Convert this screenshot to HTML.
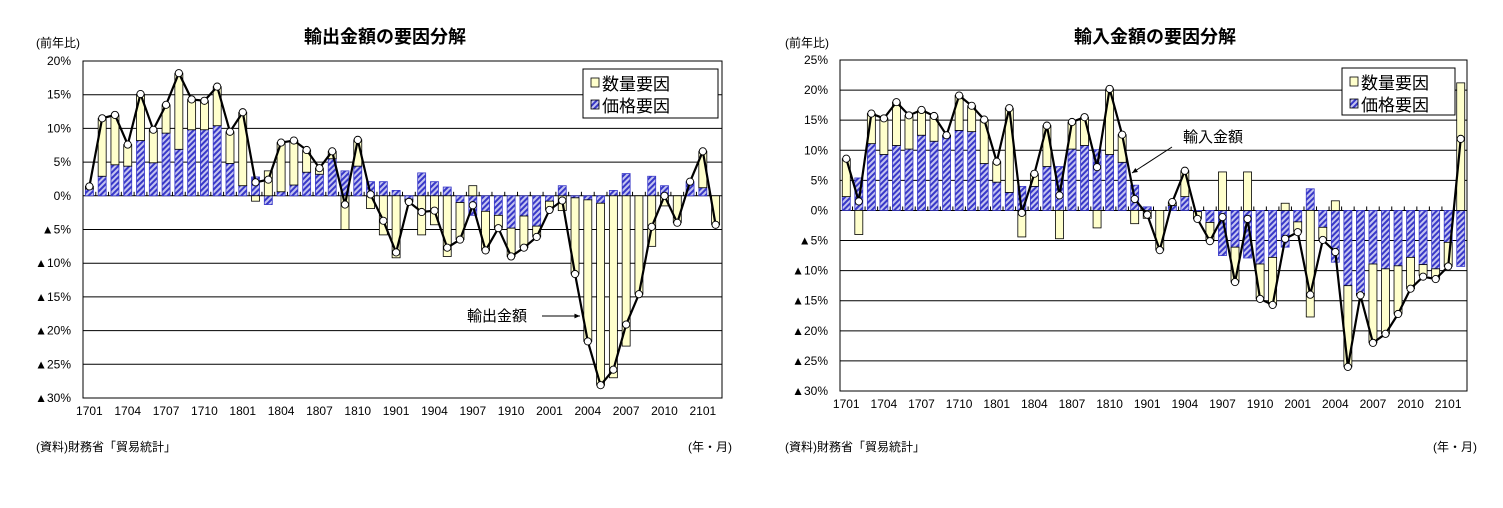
<!DOCTYPE html>
<html><head><meta charset="utf-8">
<style>
body{margin:0;background:#fff;width:1503px;height:503px;overflow:hidden;font-family:"Liberation Sans","Noto Sans CJK JP",sans-serif;}
svg text{font-family:"Liberation Sans","Noto Sans CJK JP",sans-serif;}
</style></head>
<body>
<svg id="root" width="1503" height="503" viewBox="0 0 1503 503">
<defs>
<pattern id="hatch" patternUnits="userSpaceOnUse" width="4" height="4" patternTransform="rotate(45)">
<rect width="4" height="4" fill="#c4c4f0"/><rect width="2" height="4" fill="#3838c8"/>
</pattern>
</defs>
</svg>
<script>
const categories=[];
for(let y=17;y<=21;y++){for(let m=1;m<=12;m++){categories.push(String(y)+String(m).padStart(2,'0'));}}
categories.length=50;
const exportPrice=[1.0,2.9,4.6,4.4,8.2,4.9,9.3,6.9,9.8,9.8,10.4,4.8,1.5,2.8,-1.3,0.6,1.6,3.5,3.2,5.5,3.7,4.4,2.1,2.1,0.8,-0.5,3.4,2.1,1.3,-1.0,-2.9,-2.3,-2.9,-4.8,-3.0,-4.5,-0.8,1.5,-0.3,-0.6,-1.1,0.8,3.3,0.0,2.9,1.5,0.0,2.1,1.2,0.0];
const exportVolume=[0.4,8.6,7.4,3.2,6.9,4.9,4.2,11.3,4.5,4.3,5.8,4.7,10.9,-0.8,3.7,7.3,6.6,3.3,0.9,1.1,-5.0,3.9,-1.9,-5.8,-9.2,-0.4,-5.8,-4.3,-9.0,-5.5,1.5,-5.8,-1.9,-4.2,-4.7,-1.6,-1.3,-2.2,-11.3,-21.0,-27.0,-27.0,-22.3,-14.6,-7.5,-1.5,-4.0,0.0,5.4,-4.3];
const exportTotal=[1.4,11.5,12.0,7.6,15.1,9.8,13.5,18.2,14.3,14.1,16.2,9.5,12.4,2.0,2.4,7.9,8.2,6.8,4.1,6.6,-1.3,8.3,0.2,-3.7,-8.4,-0.9,-2.4,-2.2,-7.7,-6.5,-1.4,-8.1,-4.8,-9.0,-7.7,-6.1,-2.1,-0.7,-11.6,-21.6,-28.1,-25.8,-19.1,-14.6,-4.6,0.0,-4.0,2.1,6.6,-4.3];
const importPrice=[2.3,5.4,11.1,9.3,10.8,10.2,12.5,11.5,12.2,13.3,13.1,7.8,4.7,3.0,4.0,4.0,7.3,7.3,10.2,10.8,10.1,9.3,8.0,4.2,0.6,0.0,0.8,2.3,-0.2,-2.0,-7.5,-6.1,-7.9,-8.9,-7.8,-6.1,-1.9,3.6,-2.8,-8.6,-12.5,-13.8,-8.9,-9.7,-9.2,-7.8,-9.0,-9.7,-5.3,-9.3];
const importVolume=[6.3,-4.0,5.0,6.0,7.2,5.6,4.2,4.2,0.3,5.8,4.3,7.3,3.4,14.0,-4.4,2.1,6.8,-4.7,4.5,4.7,-2.9,10.9,4.6,-2.2,-1.3,-6.6,0.6,4.3,-1.2,-3.1,6.4,-5.8,6.4,-5.8,-7.9,1.2,-1.7,-17.7,-2.1,1.6,-13.5,-0.3,-13.1,-10.8,-8.0,-5.2,-1.8,-1.7,-4.0,21.2];
const importTotal=[8.6,1.5,16.1,15.3,18.0,15.8,16.7,15.7,12.5,19.1,17.4,15.1,8.1,17.0,-0.4,6.1,14.1,2.5,14.7,15.5,7.2,20.2,12.6,1.9,-0.7,-6.6,1.4,6.6,-1.4,-5.1,-1.1,-11.9,-1.4,-14.7,-15.7,-4.7,-3.6,-14.0,-4.9,-6.9,-26.0,-14.1,-22.0,-20.5,-17.2,-13.0,-11.0,-11.4,-9.3,11.9];
const exportTicks=[20,15,10,5,0,-5,-10,-15,-20,-25,-30];
const importTicks=[25,20,15,10,5,0,-5,-10,-15,-20,-25,-30];

const svg=document.getElementById('root');
const NS='http://www.w3.org/2000/svg';
function mk(tag,attrs,parent){const e=document.createElementNS(NS,tag);for(const k in attrs)e.setAttribute(k,attrs[k]);(parent||svg).appendChild(e);return e;}
function fmt(v){return v<0?'▲'+(-v)+'%':v+'%';}

function drawChart(o){
  const g=mk('g',{});
  
  
  const n=categories.length;
  const slot=(o.x1-o.x0)/n;
  const yS=v=>o.y0+(o.vmax-v)*(o.y1-o.y0)/(o.vmax-o.vmin);
  const xS=i=>o.x0+slot*(i+0.5);
  const frame=mk('rect',{x:o.x0,y:o.y0,width:o.x1-o.x0,height:o.y1-o.y0,fill:'#fff',stroke:'#000','stroke-width':1},g);
  
  
  o.ticks.forEach(t=>{
    const y=yS(t);
    const gl=mk('line',{x1:o.x0,x2:o.x1,y1:y,y2:y,stroke:'#000','stroke-width':1},g);
    
    
    const tl=mk('text',{x:o.x0-12,y:y+4,'text-anchor':'end','font-size':12},g);
    tl.textContent=fmt(t);
    
    
  });
  const bw=8;
  for(let i=0;i<n;i++){
    let pos=0,neg=0;
    [[o.price[i],'url(#hatch)','#3838c8','price-bar'],[o.volume[i],'#ffffcc','#000','volume-bar']].forEach(([v,fill,st,nm])=>{
      if(!v)return;
      let a,b;
      if(v>0){a=pos;b=pos+v;pos=b;}else{a=neg;b=neg+v;neg=b;}
      const ya=yS(a),yb=yS(b);
      const r=mk('rect',{x:xS(i)-bw/2,y:Math.min(ya,yb),width:bw,height:Math.abs(yb-ya),fill:fill,stroke:st,'stroke-width':0.8},g);
      
      
    });
  }
  const y0=yS(0);
  for(let i=0;i<=n;i++){
    const tk=mk('line',{x1:o.x0+slot*i,x2:o.x0+slot*i,y1:y0,y2:y0-4,stroke:'#000','stroke-width':1},g);
    
    
  }
  for(let i=0;i<n;i+=3){
    const xl=mk('text',{x:xS(i),y:o.y1+17,'text-anchor':'middle','font-size':12},g);
    xl.textContent=categories[i];
    
    
  }
  const pts=o.total.map((v,i)=>xS(i)+','+yS(v)).join(' ');
  const pl=mk('polyline',{points:pts,fill:'none',stroke:'#000','stroke-width':2.2},g);
  
  
  o.total.forEach((v,i)=>{
    const c=mk('circle',{cx:xS(i),cy:yS(v),r:3.6,fill:'#fff',stroke:'#000','stroke-width':0.9},g);
    
    
  });
  const L=o.legend;
  const lg=mk('g',{},g);
  
  
  mk('rect',{x:L[0],y:L[1],width:L[2],height:L[3],fill:'#fff',stroke:'#000','stroke-width':1},lg);
  [['#ffffcc','数量要因'],['url(#hatch)','価格要因']].forEach(([f,t],k)=>{
    const yy=L[1]+14+k*22;
    const sw=mk('rect',{x:L[0]+8,y:yy-5,width:8,height:9,fill:f,stroke:'#000','stroke-width':0.8},lg);
    
    
    const lt=mk('text',{x:L[0]+19,y:yy+7,'font-size':17},lg);
    lt.textContent=t;
    
    
  });
  const tt=mk('text',{x:o.titleX,y:43,'text-anchor':'middle','font-size':18,'font-weight':'bold'},g);
  tt.textContent=o.title;
  
  
  const yu=mk('text',{x:o.unitX,y:47,'font-size':12},g);
  yu.textContent='(前年比)';
  
  
  const src=mk('text',{x:o.unitX,y:451,'font-size':12},g);
  src.textContent='(資料)財務省「貿易統計」';
  
  
  const xu=mk('text',{x:o.x1+10,y:451,'text-anchor':'end','font-size':12},g);
  xu.textContent='(年・月)';
  
  
  const A=o.ann;
  const at=mk('text',{x:A[0],y:A[1],'font-size':15},g);
  at.textContent=o.annText;
  
  
  const al=mk('line',{x1:A[2],y1:A[3],x2:A[4],y2:A[5],stroke:'#000','stroke-width':1},g);
  
  
  const ang=Math.atan2(A[5]-A[3],A[4]-A[2]);
  const h=6,p=[[A[4],A[5]],[A[4]-h*Math.cos(ang-0.4),A[5]-h*Math.sin(ang-0.4)],[A[4]-h*Math.cos(ang+0.4),A[5]-h*Math.sin(ang+0.4)]];
  mk('polygon',{points:p.map(q=>q.join(',')).join(' '),fill:'#000'},g);
}

drawChart({name:'export-chart',x0:83,x1:722,y0:61,y1:398,vmax:20,vmin:-30,ticks:exportTicks,price:exportPrice,volume:exportVolume,total:exportTotal,
  legend:[583,69,135,49],title:'輸出金額の要因分解',titleX:385,unitX:36,annText:'輸出金額',ann:[467,321,542,316,580,316]});
drawChart({name:'import-chart',x0:840,x1:1467,y0:60,y1:391,vmax:25,vmin:-30,ticks:importTicks,price:importPrice,volume:importVolume,total:importTotal,
  legend:[1342,68,113,47],title:'輸入金額の要因分解',titleX:1155,unitX:785,annText:'輸入金額',ann:[1183,142,1172,147,1132,173]});
</script>
</body></html>
